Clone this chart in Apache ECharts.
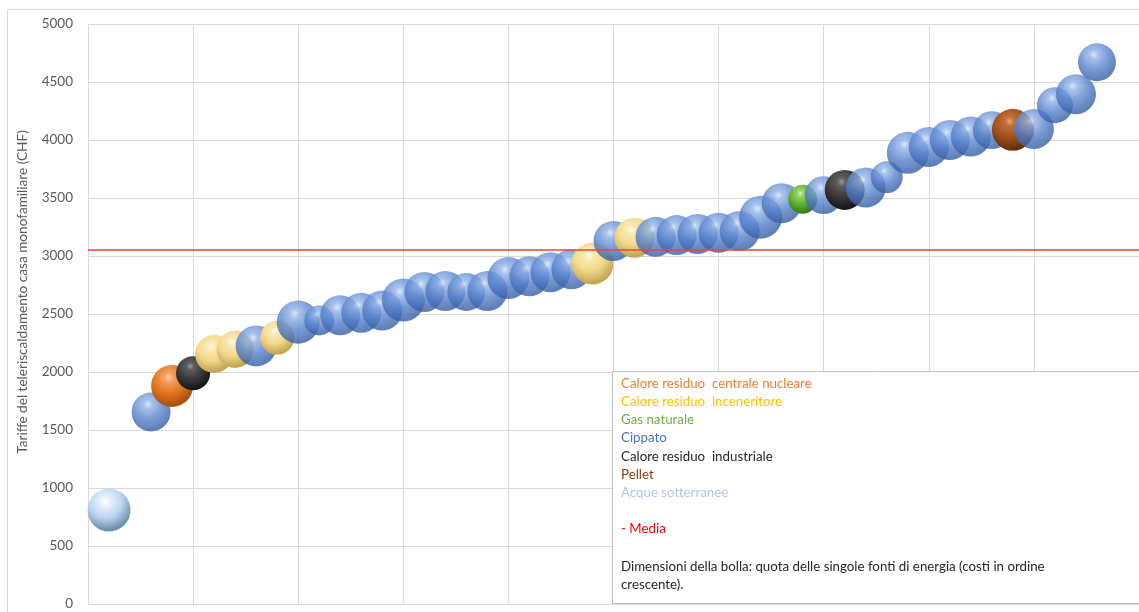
<!DOCTYPE html>
<html>
<head>
<meta charset="utf-8">
<title>Tariffe del teleriscaldamento</title>
<script src="https://cdn.jsdelivr.net/npm/echarts@6/dist/echarts.min.js"></script>
<style>
  html, body { margin: 0; padding: 0; background: #ffffff; }
  #chart { width: 1139px; height: 612px; }
</style>
</head>
<body>
<div id="chart"></div>
<script>
// Energy sources (legend order)
const sources = [
  'Calore residuo  centrale nucleare',
  'Calore residuo  inceneritore',
  'Gas naturale',
  'Cippato',
  'Calore residuo  industriale',
  'Pellet',
  'Acque sotterranee'
];

// Network rank (ascending cost)
const rank = [1, 3, 4, 5, 6, 7, 8, 9, 10, 11, 12, 13, 14, 15, 16, 17, 18, 19, 20, 21,
  22, 23, 24, 25, 26, 27, 28, 29, 30, 31, 32, 33, 34, 35, 36, 37, 38, 39, 40, 41,
  42, 43, 44, 45, 46, 47, 48];

// Tariff for a single-family house (CHF)
const tariff = [810, 1655, 1880, 1990, 2155, 2195, 2225, 2295, 2430, 2445, 2490, 2510, 2530, 2620, 2690, 2698, 2690, 2698, 2810, 2825,
  2860, 2885, 2935, 3130, 3158, 3165, 3180, 3190, 3200, 3215, 3335, 3455, 3490, 3525, 3570, 3590, 3680, 3890, 3940, 4000,
  4030, 4085, 4088, 4095, 4300, 4395, 4670];

// Index into sources
const sourceOf = [6, 3, 0, 4, 1, 1, 3, 1, 3, 3, 3, 3, 3, 3, 3, 3, 3, 3, 3, 3,
  3, 3, 1, 3, 1, 3, 3, 3, 3, 3, 3, 3, 2, 3, 4, 3, 3, 3, 3, 3,
  3, 3, 5, 3, 3, 3, 3];

// Share of each energy source (bubble size)
const quota = [18.5, 15.2, 17.6, 11.6, 14.4, 13.7, 16.8, 11.6, 18.5, 9.0, 16.0, 16.0, 16.0, 18.5, 16.0, 16.0, 14.4, 16.0, 17.6, 16.0,
  16.0, 16.0, 17.6, 16.0, 16.0, 16.0, 16.0, 16.0, 16.0, 16.0, 18.5, 16.0, 8.4, 14.4, 16.0, 16.0, 10.2, 17.6, 16.0, 16.0,
  16.0, 14.4, 17.6, 16.0, 13.0, 16.0, 14.4];

// Average tariff
const media = 3050;

// Legend text box content
const legendNote = 'Dimensioni della bolla: quota delle singole fonti di energia (costi in ordine\ncrescente).';
const legendMean = '- Media';
const yAxisTitle = 'Tariffe del teleriscaldamento casa monofamiliare (CHF)';

// Sphere shading per source: [highlight, light, body, shadow, rim], opacity
const sphereStyle = [
  { stops: ['#fbd0a6', '#f5a163', '#e2761f', '#a9500f', '#c06220'], opacity: 1 },
  { stops: ['#fffbe8', '#fbeab4', '#f1d88a', '#c4a553', '#d9bd6c'], opacity: 1 },
  { stops: ['#d4f5b5', '#95d566', '#5eb134', '#3b7a1b', '#4f9a2a'], opacity: 1 },
  { stops: ['#d3e2f8', '#93b3e7', '#5883cd', '#375fa4', '#4a75bd'], opacity: 0.8 },
  { stops: ['#9a9a9a', '#5e5e5e', '#3a3a3a', '#161616', '#2a2a2a'], opacity: 1 },
  { stops: ['#e7a77a', '#c66f34', '#a2501a', '#66300b', '#84400f'], opacity: 1 },
  { stops: ['#ffffff', '#e8f2fb', '#bcd6ee', '#6f8ea9', '#93b0c9'], opacity: 1 }
];

// Legend text colours
const legendColors = ['#ED7D31', '#FFC000', '#70AD47', '#4472C4', '#262626', '#843C0C', '#B4C7E7'];

const FONT = 'Lato, "Open Sans", sans-serif';
const LEGEND_FONT = '13.3px ' + FONT;

function sphere(idx) {
  const s = sphereStyle[idx];
  return {
    color: {
      type: 'radial', x: 0.42, y: 0.3, r: 0.78,
      colorStops: [
        { offset: 0, color: s.stops[0] },
        { offset: 0.14, color: s.stops[1] },
        { offset: 0.48, color: s.stops[2] },
        { offset: 0.86, color: s.stops[3] },
        { offset: 1, color: s.stops[4] }
      ]
    },
    opacity: s.opacity
  };
}

const bubbles = rank.map((x, i) => ({
  value: [x, tariff[i], quota[i]],
  itemStyle: sphere(sourceOf[i])
}));

// Legend text box
const lineH = 18.2;
const boxX = 612.5, boxY = 371.5;
const textX = 621, firstY = 383.5;
const legendGraphics = [
  {
    type: 'rect', z: 100,
    shape: { x: boxX, y: boxY, width: 600, height: 232 },
    style: { fill: '#ffffff', stroke: '#bfbfbf', lineWidth: 1 }
  }
];
sources.forEach((name, i) => {
  legendGraphics.push({
    type: 'text', z: 101, x: textX, y: firstY + i * lineH,
    style: { text: name, fill: legendColors[i], font: LEGEND_FONT, textVerticalAlign: 'middle' }
  });
});
legendGraphics.push({
  type: 'text', z: 101, x: textX, y: firstY + 8 * lineH,
  style: { text: legendMean, fill: '#ff0000', font: LEGEND_FONT, textVerticalAlign: 'middle' }
});
legendGraphics.push({
  type: 'text', z: 101, x: textX, y: firstY + 10 * lineH - 8,
  style: { text: legendNote, fill: '#262626', font: LEGEND_FONT, lineHeight: 18, textVerticalAlign: 'top' }
});

const chart = echarts.init(document.getElementById('chart'), null, { renderer: 'canvas' });
chart.setOption({
  animation: false,
  backgroundColor: '#ffffff',
  textStyle: { fontFamily: FONT },
  grid: { left: 88, right: 0, top: 24, bottom: 8 },
  xAxis: {
    type: 'value', min: 0, max: 50, interval: 5,
    axisLine: { show: false }, axisTick: { show: false }, axisLabel: { show: false },
    splitLine: { show: true, lineStyle: { color: '#d9d9d9', width: 1 } }
  },
  yAxis: {
    type: 'value', min: 0, max: 5000, interval: 500,
    axisLine: { show: false }, axisTick: { show: false },
    axisLabel: { color: '#595959', fontSize: 13.5, margin: 15, fontFamily: FONT, formatter: v => String(v) },
    splitLine: { show: true, lineStyle: { color: '#d9d9d9', width: 1 } }
  },
  graphic: [
    {
      type: 'rect', z: -1, silent: true,
      shape: { x: 7.5, y: 9.5, width: 1300, height: 800 },
      style: { fill: 'none', stroke: '#d9d9d9', lineWidth: 1 }
    },
    {
      type: 'text', z: 10, x: 23, y: 292, rotation: Math.PI / 2,
      style: { text: yAxisTitle, fill: '#595959', font: '13.6px ' + FONT, textAlign: 'center', textVerticalAlign: 'middle' }
    }
  ].concat(legendGraphics),
  series: [
    {
      type: 'scatter',
      data: bubbles,
      symbolSize: v => 10 * Math.sqrt(v[2]),
      markLine: {
        silent: true, symbol: ['none', 'none'], label: { show: false },
        lineStyle: { color: '#ff3b3b', width: 1.5, type: 'solid' },
        data: [{ yAxis: media }]
      }
    }
  ]
});
</script>
</body>
</html>
